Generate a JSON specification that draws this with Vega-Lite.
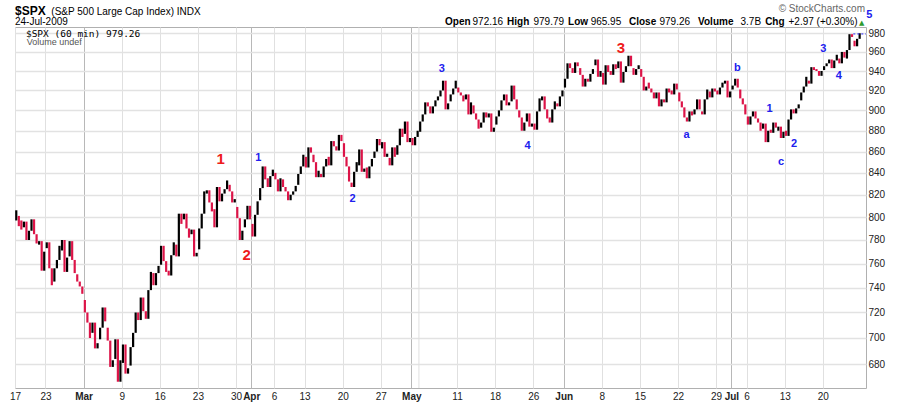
{
"$schema":"https://vega.github.io/schema/vega-lite/v6.json",
"width":851,"height":361,
"autosize":{"type":"none"},
"padding":{"left":15,"top":27,"right":34,"bottom":17},
"background":"white",
"config":{"view":{"stroke":"#b0b0b0","strokeWidth":1},"font":"Liberation Sans","axis":{"labelOverlap":false,"labelBound":false}},
"datasets":{
"bars":[
{"t":0,"h":806,"l":797,"c":799},{"t":1,"h":801,"l":792,"c":795},{"t":2,"h":797,"l":789,"c":790},
{"t":3,"h":796,"l":791,"c":796},{"t":4,"h":796,"l":780,"c":780},{"t":5,"h":788,"l":780,"c":788},
{"t":6,"h":798,"l":788,"c":798},{"t":7,"h":798,"l":785,"c":785},{"t":8,"h":785,"l":777,"c":779},
{"t":9,"h":779,"l":776,"c":779},{"t":10,"h":779,"l":754,"c":754},{"t":11,"h":770,"l":754,"c":770},
{"t":12,"h":778,"l":773,"c":778},{"t":13,"h":778,"l":756,"c":756},{"t":14,"h":756,"l":742,"c":743},
{"t":15,"h":756,"l":745,"c":756},{"t":16,"h":763,"l":756,"c":763},{"t":17,"h":775,"l":763,"c":773},
{"t":18,"h":780,"l":771,"c":780},{"t":19,"h":780,"l":753,"c":753},{"t":20,"h":765,"l":753,"c":765},
{"t":21,"h":779,"l":766,"c":779},{"t":22,"h":779,"l":763,"c":763},{"t":23,"h":763,"l":752,"c":753},
{"t":24,"h":751,"l":745,"c":745},{"t":25,"h":745,"l":741,"c":741},{"t":26,"h":741,"l":735,"c":735},
{"t":27,"h":730,"l":720,"c":720},{"t":28,"h":720,"l":712,"c":712},{"t":29,"h":712,"l":700,"c":701},
{"t":30,"h":712,"l":704,"c":712},{"t":31,"h":712,"l":692,"c":692},{"t":32,"h":696,"l":692,"c":696},
{"t":33,"h":708,"l":699,"c":708},{"t":34,"h":724,"l":708,"c":724},{"t":35,"h":724,"l":713,"c":713},
{"t":36,"h":708,"l":698,"c":698},{"t":37,"h":698,"l":678,"c":678},{"t":38,"h":683,"l":678,"c":683},
{"t":39,"h":699,"l":684,"c":699},{"t":40,"h":699,"l":667,"c":667},{"t":41,"h":683,"l":667,"c":683},
{"t":42,"h":695,"l":681,"c":695},{"t":43,"h":695,"l":673,"c":673},{"t":44,"h":677,"l":673,"c":677},
{"t":45,"h":693,"l":679,"c":693},{"t":46,"h":704,"l":693,"c":704},{"t":47,"h":720,"l":704,"c":720},
{"t":48,"h":720,"l":714,"c":714},{"t":49,"h":732,"l":714,"c":732},{"t":50,"h":732,"l":721,"c":721},
{"t":51,"h":721,"l":715,"c":715},{"t":52,"h":738,"l":715,"c":738},{"t":53,"h":753,"l":738,"c":751},
{"t":54,"h":752,"l":742,"c":742},{"t":55,"h":752,"l":742,"c":752},{"t":56,"h":758,"l":752,"c":757},
{"t":57,"h":775,"l":759,"c":775},{"t":58,"h":775,"l":762,"c":762},{"t":59,"h":762,"l":753,"c":754},
{"t":60,"h":754,"l":750,"c":750},{"t":61,"h":767,"l":750,"c":767},{"t":62,"h":778,"l":767,"c":778},
{"t":63,"h":776,"l":766,"c":766},{"t":64,"h":803,"l":766,"c":803},{"t":65,"h":803,"l":794,"c":794},
{"t":66,"h":803,"l":798,"c":803},{"t":67,"h":803,"l":790,"c":790},{"t":68,"h":790,"l":782,"c":784},
{"t":69,"h":789,"l":785,"c":789},{"t":70,"h":789,"l":766,"c":766},{"t":71,"h":769,"l":766,"c":769},
{"t":72,"h":790,"l":772,"c":790},{"t":73,"h":803,"l":790,"c":803},{"t":74,"h":823,"l":803,"c":823},
{"t":75,"h":824,"l":821,"c":824},{"t":76,"h":824,"l":813,"c":813},{"t":77,"h":813,"l":805,"c":806},
{"t":78,"h":807,"l":791,"c":791},{"t":79,"h":827,"l":791,"c":827},{"t":80,"h":827,"l":814,"c":814},
{"t":81,"h":821,"l":814,"c":821},{"t":82,"h":825,"l":821,"c":825},{"t":83,"h":833,"l":825,"c":833},
{"t":84,"h":829,"l":823,"c":823},{"t":85,"h":823,"l":813,"c":813},{"t":86,"h":816,"l":813,"c":816},
{"t":87,"h":809,"l":799,"c":799},{"t":88,"h":799,"l":780,"c":780},{"t":89,"h":788,"l":780,"c":788},
{"t":90,"h":798,"l":791,"c":798},{"t":91,"h":810,"l":798,"c":810},{"t":92,"h":810,"l":798,"c":798},
{"t":93,"h":794,"l":783,"c":783},{"t":94,"h":802,"l":783,"c":802},{"t":95,"h":814,"l":802,"c":811},
{"t":96,"h":826,"l":815,"c":826},{"t":97,"h":846,"l":826,"c":846},{"t":98,"h":846,"l":834,"c":834},
{"t":99,"h":835,"l":827,"c":827},{"t":100,"h":837,"l":827,"c":837},{"t":101,"h":843,"l":837,"c":843},
{"t":102,"h":840,"l":834,"c":834},{"t":103,"h":834,"l":823,"c":823},{"t":104,"h":835,"l":823,"c":835},
{"t":105,"h":834,"l":827,"c":827},{"t":106,"h":827,"l":823,"c":823},{"t":107,"h":823,"l":815,"c":816},
{"t":108,"h":820,"l":815,"c":820},{"t":109,"h":823,"l":820,"c":823},{"t":110,"h":828,"l":823,"c":825},
{"t":111,"h":839,"l":829,"c":839},{"t":112,"h":846,"l":839,"c":846},{"t":113,"h":857,"l":846,"c":857},
{"t":114,"h":855,"l":845,"c":845},{"t":115,"h":864,"l":845,"c":864},{"t":116,"h":864,"l":859,"c":859},
{"t":117,"h":857,"l":850,"c":850},{"t":118,"h":850,"l":836,"c":836},{"t":119,"h":842,"l":836,"c":842},
{"t":120,"h":839,"l":836,"c":836},{"t":121,"h":846,"l":836,"c":846},{"t":122,"h":853,"l":846,"c":852},
{"t":123,"h":855,"l":847,"c":847},{"t":124,"h":870,"l":847,"c":870},{"t":125,"h":870,"l":865,"c":865},
{"t":126,"h":865,"l":861,"c":861},{"t":127,"h":876,"l":861,"c":876},{"t":128,"h":876,"l":870,"c":870},
{"t":129,"h":868,"l":855,"c":855},{"t":130,"h":855,"l":846,"c":846},{"t":131,"h":846,"l":832,"c":832},
{"t":132,"h":831,"l":827,"c":827},{"t":133,"h":841,"l":827,"c":841},{"t":134,"h":850,"l":841,"c":850},
{"t":135,"h":862,"l":847,"c":862},{"t":136,"h":862,"l":841,"c":841},{"t":137,"h":844,"l":841,"c":844},
{"t":138,"h":845,"l":835,"c":835},{"t":139,"h":846,"l":835,"c":846},{"t":140,"h":853,"l":846,"c":852},
{"t":141,"h":860,"l":854,"c":860},{"t":142,"h":872,"l":860,"c":872},{"t":143,"h":872,"l":866,"c":866},
{"t":144,"h":869,"l":863,"c":869},{"t":145,"h":869,"l":855,"c":855},{"t":146,"h":858,"l":855,"c":858},
{"t":147,"h":854,"l":847,"c":847},{"t":148,"h":864,"l":847,"c":864},{"t":149,"h":864,"l":855,"c":855},
{"t":150,"h":866,"l":857,"c":866},{"t":151,"h":882,"l":866,"c":882},{"t":152,"h":882,"l":874,"c":874},
{"t":153,"h":889,"l":877,"c":889},{"t":154,"h":889,"l":869,"c":869},{"t":155,"h":873,"l":869,"c":873},
{"t":156,"h":873,"l":866,"c":866},{"t":157,"h":874,"l":866,"c":874},{"t":158,"h":880,"l":874,"c":878},
{"t":159,"h":889,"l":879,"c":889},{"t":160,"h":896,"l":889,"c":896},{"t":161,"h":908,"l":896,"c":907},
{"t":162,"h":908,"l":904,"c":904},{"t":163,"h":904,"l":897,"c":897},{"t":164,"h":904,"l":897,"c":904},
{"t":165,"h":910,"l":904,"c":910},{"t":166,"h":914,"l":910,"c":914},{"t":167,"h":920,"l":914,"c":920},
{"t":168,"h":930,"l":920,"c":930},{"t":169,"h":930,"l":901,"c":901},{"t":170,"h":907,"l":901,"c":907},
{"t":171,"h":916,"l":909,"c":916},{"t":172,"h":922,"l":916,"c":922},{"t":173,"h":930,"l":922,"c":929},
{"t":174,"h":923,"l":918,"c":918},{"t":175,"h":918,"l":915,"c":915},{"t":176,"h":915,"l":909,"c":909},
{"t":177,"h":916,"l":911,"c":916},{"t":178,"h":916,"l":896,"c":896},{"t":179,"h":908,"l":896,"c":908},
{"t":180,"h":905,"l":897,"c":897},{"t":181,"h":897,"l":891,"c":891},{"t":182,"h":891,"l":882,"c":884},
{"t":183,"h":888,"l":883,"c":888},{"t":184,"h":898,"l":888,"c":898},{"t":185,"h":898,"l":893,"c":893},
{"t":186,"h":897,"l":893,"c":897},{"t":187,"h":897,"l":879,"c":879},{"t":188,"h":883,"l":879,"c":883},
{"t":189,"h":894,"l":886,"c":894},{"t":190,"h":900,"l":894,"c":900},{"t":191,"h":910,"l":900,"c":910},
{"t":192,"h":916,"l":910,"c":916},{"t":193,"h":916,"l":905,"c":905},{"t":194,"h":908,"l":905,"c":908},
{"t":195,"h":925,"l":909,"c":925},{"t":196,"h":925,"l":911,"c":911},{"t":197,"h":911,"l":901,"c":903},
{"t":198,"h":900,"l":893,"c":893},{"t":199,"h":893,"l":880,"c":880},{"t":200,"h":888,"l":880,"c":888},
{"t":201,"h":897,"l":889,"c":897},{"t":202,"h":897,"l":884,"c":884},{"t":203,"h":887,"l":884,"c":887},
{"t":204,"h":887,"l":881,"c":881},{"t":205,"h":899,"l":881,"c":899},{"t":206,"h":912,"l":899,"c":910},
{"t":207,"h":914,"l":910,"c":914},{"t":208,"h":914,"l":901,"c":901},{"t":209,"h":901,"l":892,"c":893},
{"t":210,"h":893,"l":888,"c":888},{"t":211,"h":901,"l":888,"c":901},{"t":212,"h":909,"l":901,"c":907},
{"t":213,"h":907,"l":904,"c":904},{"t":214,"h":914,"l":904,"c":914},{"t":215,"h":920,"l":914,"c":919},
{"t":216,"h":932,"l":923,"c":932},{"t":217,"h":948,"l":932,"c":948},{"t":218,"h":948,"l":943,"c":943},
{"t":219,"h":943,"l":938,"c":938},{"t":220,"h":949,"l":938,"c":949},{"t":221,"h":949,"l":945,"c":945},
{"t":222,"h":943,"l":936,"c":936},{"t":223,"h":936,"l":924,"c":924},{"t":224,"h":932,"l":924,"c":932},
{"t":225,"h":932,"l":929,"c":929},{"t":226,"h":937,"l":929,"c":937},{"t":227,"h":942,"l":937,"c":942},
{"t":228,"h":952,"l":946,"c":952},{"t":229,"h":952,"l":934,"c":934},{"t":230,"h":940,"l":934,"c":940},
{"t":231,"h":938,"l":926,"c":926},{"t":232,"h":946,"l":926,"c":946},{"t":233,"h":946,"l":939,"c":939},
{"t":234,"h":940,"l":936,"c":936},{"t":235,"h":947,"l":936,"c":947},{"t":236,"h":947,"l":942,"c":942},
{"t":237,"h":950,"l":943,"c":950},{"t":238,"h":950,"l":928,"c":928},{"t":239,"h":939,"l":928,"c":939},
{"t":240,"h":945,"l":939,"c":945},{"t":241,"h":956,"l":945,"c":956},{"t":242,"h":956,"l":945,"c":945},
{"t":243,"h":943,"l":936,"c":936},{"t":244,"h":942,"l":936,"c":942},{"t":245,"h":946,"l":942,"c":946},
{"t":246,"h":942,"l":934,"c":934},{"t":247,"h":934,"l":920,"c":920},{"t":248,"h":924,"l":920,"c":924},
{"t":249,"h":928,"l":922,"c":922},{"t":250,"h":922,"l":918,"c":918},{"t":251,"h":918,"l":912,"c":912},
{"t":252,"h":918,"l":912,"c":918},{"t":253,"h":918,"l":904,"c":904},{"t":254,"h":911,"l":904,"c":911},
{"t":255,"h":911,"l":908,"c":908},{"t":256,"h":922,"l":908,"c":922},{"t":257,"h":922,"l":918,"c":918},
{"t":258,"h":920,"l":916,"c":916},{"t":259,"h":927,"l":916,"c":927},{"t":260,"h":927,"l":921,"c":921},
{"t":261,"h":918,"l":909,"c":909},{"t":262,"h":909,"l":903,"c":903},{"t":263,"h":903,"l":893,"c":893},
{"t":264,"h":893,"l":889,"c":889},{"t":265,"h":899,"l":889,"c":899},{"t":266,"h":899,"l":895,"c":895},
{"t":267,"h":901,"l":896,"c":901},{"t":268,"h":911,"l":901,"c":911},{"t":269,"h":911,"l":901,"c":901},
{"t":270,"h":899,"l":896,"c":896},{"t":271,"h":911,"l":896,"c":911},{"t":272,"h":921,"l":911,"c":920},
{"t":273,"h":919,"l":913,"c":913},{"t":274,"h":922,"l":913,"c":922},{"t":275,"h":922,"l":919,"c":919},
{"t":276,"h":920,"l":916,"c":916},{"t":277,"h":923,"l":916,"c":923},{"t":278,"h":928,"l":923,"c":927},
{"t":279,"h":930,"l":927,"c":930},{"t":280,"h":930,"l":913,"c":913},{"t":281,"h":919,"l":913,"c":919},
{"t":282,"h":925,"l":921,"c":925},{"t":283,"h":932,"l":925,"c":932},{"t":284,"h":932,"l":923,"c":923},
{"t":285,"h":921,"l":912,"c":912},{"t":286,"h":912,"l":906,"c":906},{"t":287,"h":906,"l":896,"c":896},
{"t":288,"h":894,"l":886,"c":886},{"t":289,"h":894,"l":886,"c":894},{"t":290,"h":899,"l":894,"c":899},
{"t":291,"h":899,"l":892,"c":892},{"t":292,"h":892,"l":888,"c":888},{"t":293,"h":888,"l":880,"c":881},
{"t":294,"h":887,"l":882,"c":887},{"t":295,"h":887,"l":869,"c":869},{"t":296,"h":880,"l":869,"c":880},
{"t":297,"h":881,"l":878,"c":878},{"t":298,"h":888,"l":878,"c":888},{"t":299,"h":888,"l":883,"c":883},
{"t":300,"h":884,"l":880,"c":884},{"t":301,"h":884,"l":873,"c":873},{"t":302,"h":879,"l":873,"c":879},
{"t":303,"h":880,"l":875,"c":875},{"t":304,"h":891,"l":875,"c":891},{"t":305,"h":901,"l":891,"c":901},
{"t":306,"h":901,"l":897,"c":897},{"t":307,"h":902,"l":897,"c":902},{"t":308,"h":906,"l":902,"c":906},
{"t":309,"h":918,"l":910,"c":918},{"t":310,"h":924,"l":918,"c":924},{"t":311,"h":934,"l":924,"c":933},
{"t":312,"h":930,"l":927,"c":927},{"t":313,"h":944,"l":927,"c":944},{"t":314,"h":944,"l":941,"c":941},
{"t":315,"h":942,"l":940,"c":940},{"t":316,"h":940,"l":935,"c":935},{"t":317,"h":940,"l":935,"c":940},
{"t":318,"h":945,"l":941,"c":945},{"t":319,"h":948,"l":945,"c":948},{"t":320,"h":952,"l":948,"c":951},
{"t":321,"h":952,"l":943,"c":943},{"t":322,"h":951,"l":943,"c":951},{"t":323,"h":957,"l":951,"c":955},
{"t":324,"h":953,"l":948,"c":948},{"t":325,"h":960,"l":948,"c":960},{"t":326,"h":960,"l":954,"c":954},
{"t":327,"h":962,"l":953,"c":962},{"t":328,"h":979,"l":962,"c":979},{"t":329,"h":979,"l":976,"c":976},
{"t":330,"h":972,"l":966,"c":966},{"t":331,"h":974,"l":966,"c":974},{"t":332,"h":980,"l":974,"c":979}
]},
"layer":[
{"data":{"values":[{"t":158.5}]},
 "mark":{"type":"rule","color":"#e0e0e0","strokeWidth":1},
 "encoding":{
  "x":{"field":"t","type":"quantitative","title":null,"scale":{"domain":[-0.5,334.5],"nice":false,"zero":false}}}},
{"data":{"name":"bars"},
 "transform":[{"window":[{"op":"lag","field":"c","as":"pc"}],"sort":[{"field":"t","order":"ascending"}]}],
 "mark":{"type":"rule","strokeWidth":2.2},
 "encoding":{
  "x":{"field":"t","type":"quantitative","title":null,
   "scale":{"domain":[-0.5,334.5],"nice":false,"zero":false},
   "axis":{"values":[-0.5,11.5,26.5,41.5,56.5,71.5,86.5,92.5,101.5,113.5,128.5,143.5,155.5,173.5,188.5,203.5,215.5,230.5,245.5,260.5,275.5,281.5,287.5,302.5,317.5],
    "tickCount":200,
    "labelExpr":"['17','23','Mar','9','16','23','30','Apr','6','13','20','27','May','11','18','26','Jun','8','15','22','29','Jul','6','13','20'][indexof([-0.5,11.5,26.5,41.5,56.5,71.5,86.5,92.5,101.5,113.5,128.5,143.5,155.5,173.5,188.5,203.5,215.5,230.5,245.5,260.5,275.5,281.5,287.5,302.5,317.5],datum.value)]",
    "grid":true,
    "gridColor":{"condition":{"test":"indexof([26.5,92.5,155.5,215.5,281.5],datum.value)>=0","value":"#b8b8b8"},"value":"#e0e0e0"},
    "gridWidth":1,"ticks":false,"domain":false,
    "labelFont":"Liberation Sans","labelFontSize":10,"labelColor":"#222","labelPadding":3,
    "labelFontWeight":{"condition":{"test":"indexof([26.5,92.5,155.5,215.5,281.5],datum.value)>=0","value":"bold"},"value":"normal"},
    "labelOverlap":false,"labelFlush":false,"labelBound":false,"title":null}},
  "y":{"field":"l","type":"quantitative","title":null,
   "scale":{"type":"log","domain":[662.4,986.8],"nice":false},
   "axis":{"orient":"right","values":[680,700,720,740,760,780,800,820,840,860,880,900,920,940,960,980],"tickCount":200,"format":"d",
    "grid":true,"gridColor":"#e2e2e2","gridWidth":1.3,"ticks":false,"domain":false,
    "labelFont":"Liberation Sans","labelFontSize":10,"labelColor":"#222","labelPadding":2,"labelFlush":false,"labelOverlap":false,"title":null}},
  "y2":{"field":"h"},
  "color":{"condition":{"test":"datum.pc == null || datum.c >= datum.pc","value":"#000000"},"value":"#dc1448"}
 }},
{"data":{"values":[{"t":329.5,"t2":334.5,"p":979.26}]},
 "mark":{"type":"rule","color":"#2a2aff","strokeDash":[2,2],"strokeWidth":1},
 "encoding":{
  "x":{"field":"t","type":"quantitative","title":null,"scale":{"domain":[-0.5,334.5],"nice":false,"zero":false}},
  "x2":{"field":"t2"},
  "y":{"field":"p","type":"quantitative","title":null,"scale":{"type":"log","domain":[662.4,986.8],"nice":false}}}},
{"data":{"values":[{"t":80.5,"p":852.7,"txt":"1"},{"t":90.7,"p":767.2,"txt":"2"},{"t":238.0,"p":963.9,"txt":"3"}]},
 "mark":{"type":"text","align":"center","baseline":"middle","font":"Liberation Sans","fontSize":15,"fontWeight":"bold","color":"#ee1c1c"},
 "encoding":{
  "x":{"field":"t","type":"quantitative","title":null,"scale":{"domain":[-0.5,334.5],"nice":false,"zero":false}},
  "y":{"field":"p","type":"quantitative","title":null,"scale":{"type":"log","domain":[662.4,986.8],"nice":false}},
  "text":{"field":"txt"}}},
{"data":{"values":[{"t":95.3,"p":853.6,"txt":"1"},{"t":132.4,"p":816.1,"txt":"2"},{"t":167.5,"p":942.1,"txt":"3"},{"t":201.3,"p":865.6,"txt":"4"},{"t":263.9,"p":876.0,"txt":"a"},{"t":283.9,"p":942.9,"txt":"b"},{"t":296.5,"p":901.1,"txt":"1"},{"t":301.1,"p":850.0,"txt":"c"},{"t":306.2,"p":866.9,"txt":"2"},{"t":317.7,"p":962.8,"txt":"3"},{"t":323.8,"p":934.9,"txt":"4"},{"t":335.8,"p":1000.0,"txt":"5"}]},
 "mark":{"type":"text","align":"center","baseline":"middle","font":"Liberation Sans","fontSize":11,"fontWeight":"bold","color":"#2020ee"},
 "encoding":{
  "x":{"field":"t","type":"quantitative","title":null,"scale":{"domain":[-0.5,334.5],"nice":false,"zero":false}},
  "y":{"field":"p","type":"quantitative","title":null,"scale":{"type":"log","domain":[662.4,986.8],"nice":false}},
  "text":{"field":"txt"}}},
{"data":{"values":[{"t":-0.5,"p":1000.0,"txt":"$SPX"}]},
 "mark":{"type":"text","align":"left","baseline":"alphabetic","font":"Liberation Sans","fontSize":12,"fontWeight":"bold","color":"#000"},
 "encoding":{
  "x":{"field":"t","type":"quantitative","title":null,"scale":{"domain":[-0.5,334.5],"nice":false,"zero":false}},
  "y":{"field":"p","type":"quantitative","title":null,"scale":{"type":"log","domain":[662.4,986.8],"nice":false}},
  "text":{"field":"txt"}}},
{"data":{"values":[{"t":13.8,"p":1000.0,"txt":"(S&P 500 Large Cap Index) INDX"},{"t":-0.5,"p":988.5,"txt":"24-Jul-2009"},{"t":179.6,"p":989.3,"txt":"972.16"},{"t":203.6,"p":989.3,"txt":"979.79"},{"t":226.1,"p":989.3,"txt":"965.95"},{"t":253.2,"p":989.3,"txt":"979.26"},{"t":285.1,"p":989.3,"txt":"3.7B"},{"t":304.0,"p":989.3,"txt":"+2.97 (+0.30%)"}]},
 "mark":{"type":"text","align":"left","baseline":"alphabetic","font":"Liberation Sans","fontSize":10,"color":"#000"},
 "encoding":{
  "x":{"field":"t","type":"quantitative","title":null,"scale":{"domain":[-0.5,334.5],"nice":false,"zero":false}},
  "y":{"field":"p","type":"quantitative","title":null,"scale":{"type":"log","domain":[662.4,986.8],"nice":false}},
  "text":{"field":"txt"}}},
{"data":{"values":[{"t":168.8,"p":989.3,"txt":"Open"},{"t":193.2,"p":989.3,"txt":"High"},{"t":217.2,"p":989.3,"txt":"Low"},{"t":241.2,"p":989.3,"txt":"Close"},{"t":268.4,"p":989.3,"txt":"Volume"},{"t":294.8,"p":989.3,"txt":"Chg"}]},
 "mark":{"type":"text","align":"left","baseline":"alphabetic","font":"Liberation Sans","fontSize":10,"fontWeight":"bold","color":"#000"},
 "encoding":{
  "x":{"field":"t","type":"quantitative","title":null,"scale":{"domain":[-0.5,334.5],"nice":false,"zero":false}},
  "y":{"field":"p","type":"quantitative","title":null,"scale":{"type":"log","domain":[662.4,986.8],"nice":false}},
  "text":{"field":"txt"}}},
{"data":{"values":[{"t":334.1,"p":1002.8,"txt":"© StockCharts.com"}]},
 "mark":{"type":"text","align":"right","baseline":"alphabetic","font":"Liberation Sans","fontSize":10,"color":"#666"},
 "encoding":{
  "x":{"field":"t","type":"quantitative","title":null,"scale":{"domain":[-0.5,334.5],"nice":false,"zero":false}},
  "y":{"field":"p","type":"quantitative","title":null,"scale":{"type":"log","domain":[662.4,986.8],"nice":false}},
  "text":{"field":"txt"}}},
{"data":{"values":[{"t":332.8,"p":991.5,"txt":"▲"}]},
 "mark":{"type":"text","align":"center","baseline":"middle","font":"DejaVu Sans","fontSize":7,"color":"#2e9a2e"},
 "encoding":{
  "x":{"field":"t","type":"quantitative","title":null,"scale":{"domain":[-0.5,334.5],"nice":false,"zero":false}},
  "y":{"field":"p","type":"quantitative","title":null,"scale":{"type":"log","domain":[662.4,986.8],"nice":false}},
  "text":{"field":"txt"}}},
{"data":{"values":[{"t":3.8,"p":976.0,"txt":"$SPX (60 min) 979.26"}]},
 "mark":{"type":"text","align":"left","baseline":"alphabetic","font":"DejaVu Sans Mono","fontSize":9.5,"color":"#000"},
 "encoding":{
  "x":{"field":"t","type":"quantitative","title":null,"scale":{"domain":[-0.5,334.5],"nice":false,"zero":false}},
  "y":{"field":"p","type":"quantitative","title":null,"scale":{"type":"log","domain":[662.4,986.8],"nice":false}},
  "text":{"field":"txt"}}},
{"data":{"values":[{"t":4.1,"p":966.9,"txt":"Volume undef"}]},
 "mark":{"type":"text","align":"left","baseline":"alphabetic","font":"Liberation Sans","fontSize":9,"color":"#555"},
 "encoding":{
  "x":{"field":"t","type":"quantitative","title":null,"scale":{"domain":[-0.5,334.5],"nice":false,"zero":false}},
  "y":{"field":"p","type":"quantitative","title":null,"scale":{"type":"log","domain":[662.4,986.8],"nice":false}},
  "text":{"field":"txt"}}}
]
}
